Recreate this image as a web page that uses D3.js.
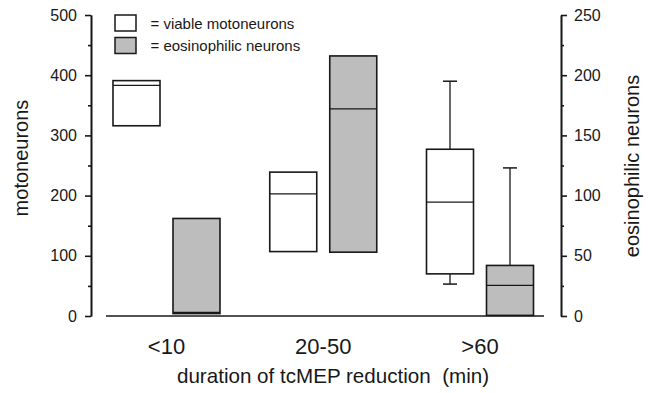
<!DOCTYPE html>
<html>
<head>
<meta charset="utf-8">
<script src="https://cdn.jsdelivr.net/npm/d3@7"></script>
<style>
  html, body { margin: 0; padding: 0; background: #fff; }
  svg { display: block; font-family: "Liberation Sans", Arial, Helvetica, sans-serif; }
</style>
</head>
<body>
<div id="chart"></div>
<script>
// categories on the x axis
const categories = ['<10', '20-50', '>60'];
// viable motoneurons (left axis) - box stats, null = no whisker
const viableQ1 = [316, 107, 70];
const viableMedian = [383, 203, 189];
const viableQ3 = [391, 239, 277];
const viableMin = [null, null, 53];
const viableMax = [null, null, 390];
// eosinophilic neurons (right axis)
const eosinQ1 = [2, 53, 0.5];
const eosinMedian = [3, 172, 25.5];
const eosinQ3 = [81, 216, 42];
const eosinMax = [null, null, 123];

const leftTicks = [0, 100, 200, 300, 400, 500];
const leftMinor = [50, 150, 250, 350, 450];
const rightTicks = [0, 50, 100, 150, 200, 250];
const rightMinor = [25, 75, 125, 175, 225];

const W = 654, H = 393;
const ink = '#181818';
const grey = '#bdbdbd';

const svg = d3.select('#chart').append('svg')
  .attr('width', W).attr('height', H);

const yL = d3.scaleLinear().domain([0, 500]).range([316, 15]);
const yR = d3.scaleLinear().domain([0, 250]).range([316, 15]);
const x = d3.scalePoint().domain(categories).range([166.5, 480]);
const boxW = 47, gap = 6.5;

// left axis
svg.append('g').attr('transform', 'translate(91,0)')
  .call(d3.axisLeft(yL).tickValues(leftTicks).tickSize(6).tickSizeOuter(0).tickPadding(8));
svg.append('g').attr('transform', 'translate(91,0)')
  .call(d3.axisLeft(yL).tickValues(leftMinor).tickSize(3).tickSizeOuter(0).tickFormat(''));

// right axis
svg.append('g').attr('transform', 'translate(561,0)')
  .call(d3.axisRight(yR).tickValues(rightTicks).tickSize(6).tickSizeOuter(0).tickPadding(7));
svg.append('g').attr('transform', 'translate(561,0)')
  .call(d3.axisRight(yR).tickValues(rightMinor).tickSize(3).tickSizeOuter(0).tickFormat(''));

svg.selectAll('.domain, .tick line').attr('stroke', ink).attr('stroke-width', 1.6);
svg.selectAll('.tick text').attr('font-size', 16).attr('fill', ink)
  .attr('font-family', '"Liberation Sans", Arial, sans-serif');

// baseline
svg.append('line')
  .attr('x1', 106).attr('x2', 544)
  .attr('y1', yL(0)).attr('y2', yL(0))
  .attr('stroke', ink).attr('stroke-width', 1.6);

// boxes
function drawBoxes(q1, med, q3, lo, hi, y, fill, dx) {
  const g = svg.append('g');
  categories.forEach((c, i) => {
    const left = x(c) + dx;
    const cx = left + boxW / 2;
    if (hi[i] != null) {
      g.append('line').attr('x1', cx).attr('x2', cx)
        .attr('y1', y(q3[i])).attr('y2', y(hi[i])).attr('stroke', ink).attr('stroke-width', 1.3);
      g.append('line').attr('x1', cx - 7).attr('x2', cx + 7)
        .attr('y1', y(hi[i])).attr('y2', y(hi[i])).attr('stroke', ink).attr('stroke-width', 1.5);
    }
    if (lo[i] != null) {
      g.append('line').attr('x1', cx).attr('x2', cx)
        .attr('y1', y(q1[i])).attr('y2', y(lo[i])).attr('stroke', ink).attr('stroke-width', 1.3);
      g.append('line').attr('x1', cx - 7).attr('x2', cx + 7)
        .attr('y1', y(lo[i])).attr('y2', y(lo[i])).attr('stroke', ink).attr('stroke-width', 1.5);
    }
    g.append('rect')
      .attr('x', left).attr('width', boxW)
      .attr('y', y(q3[i])).attr('height', y(q1[i]) - y(q3[i]))
      .attr('fill', fill).attr('stroke', ink).attr('stroke-width', 1.6);
    g.append('line').attr('x1', left).attr('x2', left + boxW)
      .attr('y1', y(med[i])).attr('y2', y(med[i]))
      .attr('stroke', ink).attr('stroke-width', 1.3);
  });
}
drawBoxes(viableQ1, viableMedian, viableQ3, viableMin, viableMax, yL, '#fff', -gap - boxW);
drawBoxes(eosinQ1, eosinMedian, eosinQ3, [null, null, null], eosinMax, yR, grey, gap);

// category labels
svg.append('g').selectAll('text').data(categories).enter().append('text')
  .attr('x', d => x(d)).attr('y', 354)
  .attr('text-anchor', 'middle').attr('font-size', 22).attr('fill', ink)
  .text(d => d);

// axis titles
svg.append('text')
  .attr('x', 333).attr('y', 383).attr('text-anchor', 'middle')
  .attr('font-size', 20.6).attr('fill', ink).style('white-space', 'pre')
  .text('duration of tcMEP reduction  (min)');
svg.append('text')
  .attr('transform', 'translate(28,158) rotate(-90)').attr('text-anchor', 'middle')
  .attr('font-size', 20).attr('fill', ink)
  .text('motoneurons');
svg.append('text')
  .attr('transform', 'translate(638.5,166) rotate(-90)').attr('text-anchor', 'middle')
  .attr('font-size', 20).attr('fill', ink)
  .text('eosinophilic neurons');

// legend
const legend = [
  { fill: '#fff', label: '= viable motoneurons' },
  { fill: grey, label: '= eosinophilic neurons' }
];
const lg = svg.append('g');
legend.forEach((d, i) => {
  lg.append('rect').attr('x', 115).attr('y', 15 + i * 22.5)
    .attr('width', 21).attr('height', 16)
    .attr('fill', d.fill).attr('stroke', ink).attr('stroke-width', 1.5);
  lg.append('text').attr('x', 150.5).attr('y', 28.5 + i * 22)
    .attr('font-size', 15).attr('fill', ink).text(d.label);
});
</script>
</body>
</html>
